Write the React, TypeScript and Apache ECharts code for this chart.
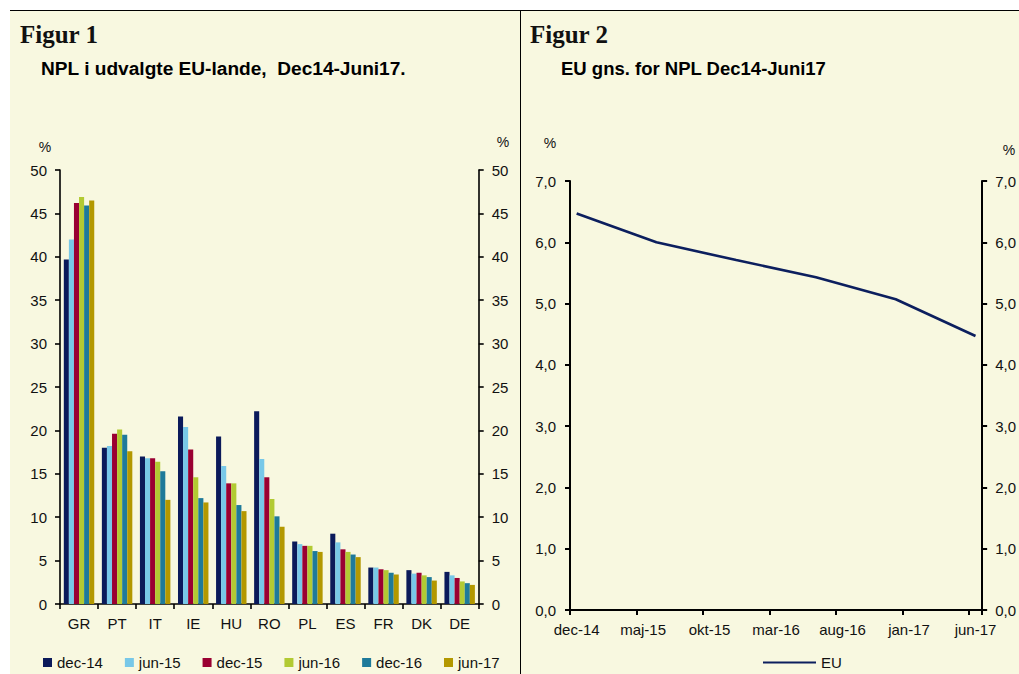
import React, { useEffect, useRef } from "react";
import * as echarts from "echarts";

// ---------- Figure 1 data ----------
const countries = ["GR", "PT", "IT", "IE", "HU", "RO", "PL", "ES", "FR", "DK", "DE"];
const periods = ["dec-14", "jun-15", "dec-15", "jun-16", "dec-16", "jun-17"];
const periodColors = ["#0b1a5a", "#78c8e8", "#9a0032", "#b2ca33", "#1e7a9a", "#b39800"];
const dec14 = [39.7, 18.0, 17.0, 21.6, 19.3, 22.2, 7.2, 8.1, 4.2, 3.9, 3.7];
const jun15 = [42.0, 18.2, 16.8, 20.4, 15.9, 16.7, 6.9, 7.1, 4.2, 3.5, 3.3];
const dec15 = [46.2, 19.6, 16.8, 17.8, 13.9, 14.6, 6.7, 6.3, 4.0, 3.6, 3.0];
const jun16 = [46.9, 20.1, 16.4, 14.6, 13.9, 12.1, 6.7, 6.0, 3.9, 3.3, 2.6];
const dec16 = [45.9, 19.5, 15.3, 12.2, 11.4, 10.1, 6.1, 5.7, 3.6, 3.1, 2.4];
const jun17 = [46.5, 17.6, 12.0, 11.7, 10.7, 8.9, 6.0, 5.4, 3.4, 2.7, 2.2];
const barValues = [dec14, jun15, dec15, jun16, dec16, jun17];

// ---------- Figure 2 data ----------
const months = [
  "dec-14",
  "jan-15", "feb-15", "mar-15", "apr-15", "maj-15", "jun-15", "jul-15", "aug-15", "sep-15", "okt-15", "nov-15", "dec-15",
  "jan-16", "feb-16", "mar-16", "apr-16", "maj-16", "jun-16", "jul-16", "aug-16", "sep-16", "okt-16", "nov-16", "dec-16",
  "jan-17", "feb-17", "mar-17", "apr-17", "maj-17", "jun-17",
];
const euDates = ["dec-14", "jun-15", "dec-15", "jun-16", "dec-16", "jun-17"];
const euValues = [6.47, 6.0, 5.71, 5.43, 5.07, 4.47];

const FONT = "Liberation Sans";
const BG = "#f8f8e0";
const TXT = "#111111";

export default function App() {
  const ref = useRef<HTMLDivElement>(null);

  useEffect(() => {
    document.body.style.margin = "0";
    const chart = echarts.init(ref.current!, undefined, { renderer: "svg" });

    const euSeriesData = months.map((m) => {
      const i = euDates.indexOf(m);
      return i >= 0 ? euValues[i] : null;
    });

    const axisLineStyle = { color: "#000", width: 1.6 };
    const axis2Style = { color: "#000", width: 2 };
    const labelStyle = { color: TXT, fontSize: 15, fontFamily: FONT };
    const commaFmt = (v: number) => v.toFixed(1).replace(".", ",");

    const option: any = {
      animation: false,
      backgroundColor: "#ffffff",
      textStyle: { fontFamily: FONT },
      grid: [
        { left: 60, width: 418.7, top: 170, height: 434, containLabel: false },
        { left: 570, width: 419, top: 181, height: 429, containLabel: false },
      ],
      legend: [
        {
          data: periods,
          left: 43,
          top: 655,
          padding: 0,
          icon: "rect",
          itemWidth: 9,
          itemHeight: 9,
          itemGap: 22,
          textStyle: { ...labelStyle },
        },
        {
          data: ["EU"],
          left: 763,
          top: 655,
          padding: 0,
          icon: "rect",
          itemWidth: 53,
          itemHeight: 2,
          textStyle: { ...labelStyle },
        },
      ],
      xAxis: [
        {
          type: "category",
          gridIndex: 0,
          data: countries,
          boundaryGap: true,
          axisLine: { lineStyle: axisLineStyle },
          axisTick: { show: true, length: 5, interval: 0, lineStyle: axisLineStyle },
          axisLabel: { ...labelStyle, margin: 12, interval: 0 },
          splitLine: { show: false },
        },
        {
          type: "category",
          gridIndex: 1,
          data: months,
          boundaryGap: true,
          axisLine: { lineStyle: axis2Style },
          axisTick: { show: true, length: 5, interval: 4, lineStyle: axis2Style },
          axisLabel: { ...labelStyle, margin: 12, interval: 4 },
          splitLine: { show: false },
        },
      ],
      yAxis: [
        {
          type: "value",
          gridIndex: 0,
          position: "left",
          min: 0,
          max: 50,
          interval: 5,
          axisLine: { show: true, lineStyle: axisLineStyle },
          axisTick: { show: true, length: 5, lineStyle: axisLineStyle },
          axisLabel: { ...labelStyle, margin: 13 },
          splitLine: { show: false },
        },
        {
          type: "value",
          gridIndex: 0,
          position: "right",
          min: 0,
          max: 50,
          interval: 5,
          axisLine: { show: true, lineStyle: axisLineStyle },
          axisTick: { show: true, length: 5, lineStyle: axisLineStyle },
          axisLabel: { ...labelStyle, margin: 13 },
          splitLine: { show: false },
        },
        {
          type: "value",
          gridIndex: 1,
          position: "left",
          min: 0,
          max: 7,
          interval: 1,
          axisLine: { show: true, lineStyle: axis2Style },
          axisTick: { show: true, length: 5, lineStyle: axis2Style },
          axisLabel: { ...labelStyle, margin: 14, formatter: commaFmt },
          splitLine: { show: false },
        },
        {
          type: "value",
          gridIndex: 1,
          position: "right",
          min: 0,
          max: 7,
          interval: 1,
          axisLine: { show: true, lineStyle: axis2Style },
          axisTick: { show: true, length: 5, lineStyle: axis2Style },
          axisLabel: { ...labelStyle, margin: 13, formatter: commaFmt },
          splitLine: { show: false },
        },
      ],
      series: [
        ...periods.map((p, i) => ({
          name: p,
          type: "bar",
          xAxisIndex: 0,
          yAxisIndex: 0,
          data: barValues[i],
          barGap: "0%",
          barCategoryGap: "20%",
          itemStyle: { color: periodColors[i] },
        })),
        {
          name: "EU",
          type: "line",
          xAxisIndex: 1,
          yAxisIndex: 2,
          data: euSeriesData,
          connectNulls: true,
          symbol: "none",
          lineStyle: { color: "#0c1f5e", width: 2.6 },
          itemStyle: { color: "#0c1f5e" },
        },
      ],
      graphic: [
        {
          type: "rect",
          z: -10,
          silent: true,
          shape: { x: 10, y: 10, width: 1009, height: 664 },
          style: { fill: BG },
        },
        {
          type: "line",
          z: 10,
          silent: true,
          shape: { x1: 10, y1: 10.5, x2: 1019, y2: 10.5 },
          style: { stroke: "#000", lineWidth: 1 },
        },
        {
          type: "line",
          z: 10,
          silent: true,
          shape: { x1: 520.5, y1: 10, x2: 520.5, y2: 674 },
          style: { stroke: "#000", lineWidth: 1 },
        },
        {
          type: "text",
          x: 20,
          y: 34,
          style: {
            text: "Figur 1",
            fontFamily: "Liberation Serif",
            fontWeight: "bold",
            fontSize: 25,
            fill: "#111",
            verticalAlign: "middle",
          },
        },
        {
          type: "text",
          x: 41,
          y: 68,
          style: {
            text: "NPL i udvalgte EU-lande,  Dec14-Juni17.",
            fontFamily: FONT,
            fontWeight: "bold",
            fontSize: 19.1,
            fill: "#000",
            verticalAlign: "middle",
          },
        },
        {
          type: "text",
          x: 530,
          y: 34,
          style: {
            text: "Figur 2",
            fontFamily: "Liberation Serif",
            fontWeight: "bold",
            fontSize: 25,
            fill: "#111",
            verticalAlign: "middle",
          },
        },
        {
          type: "text",
          x: 561,
          y: 68,
          style: {
            text: "EU gns. for NPL Dec14-Juni17",
            fontFamily: FONT,
            fontWeight: "bold",
            fontSize: 18.5,
            fill: "#000",
            verticalAlign: "middle",
          },
        },
        {
          type: "text",
          x: 45,
          y: 147,
          style: { text: "%", fontFamily: FONT, fontSize: 14, fill: TXT, align: "center", verticalAlign: "middle" },
        },
        {
          type: "text",
          x: 503,
          y: 142,
          style: { text: "%", fontFamily: FONT, fontSize: 14, fill: TXT, align: "center", verticalAlign: "middle" },
        },
        {
          type: "text",
          x: 550,
          y: 143,
          style: { text: "%", fontFamily: FONT, fontSize: 14, fill: TXT, align: "center", verticalAlign: "middle" },
        },
        {
          type: "text",
          x: 1009,
          y: 150,
          style: { text: "%", fontFamily: FONT, fontSize: 14, fill: TXT, align: "center", verticalAlign: "middle" },
        },
      ],
    };

    chart.setOption(option);
    return () => chart.dispose();
  }, []);

  return <div ref={ref} style={{ width: 1019, height: 674 }} />;
}
